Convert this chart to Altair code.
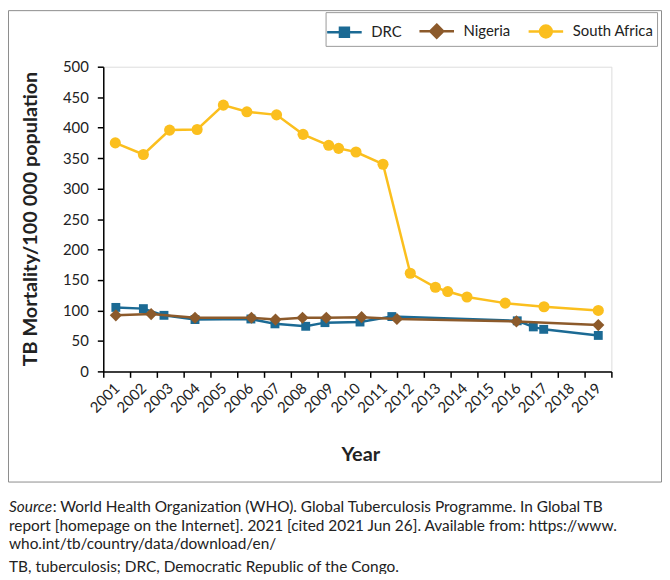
import altair as alt
import pandas as pd

SERIES = ["DRC", "Nigeria", "South Africa"]
COLORS = ["#1b6a94", "#8c5a2b", "#fbbf1e"]

DRC_YEARS = [2000.97, 2002.0, 2002.77, 2003.93, 2006.02, 2006.92, 2008.07, 2008.79, 2010.1, 2011.29, 2015.98, 2016.58, 2016.97, 2019.01]
DRC_VALUES = [105, 103, 92, 85, 86, 78, 74, 80, 81, 90, 83, 73, 69, 59]

NIG_YEARS = [2000.97, 2002.29, 2003.93, 2006.04, 2006.94, 2007.95, 2008.84, 2010.16, 2011.48, 2015.95, 2019.01]
NIG_VALUES = [92, 94, 88, 88, 85, 88, 88, 89, 86, 82, 76]

SA_YEARS = [2000.95, 2002.0, 2002.98, 2004.01, 2004.99, 2005.87, 2006.98, 2007.97, 2008.93, 2009.3, 2009.95, 2010.96, 2011.98, 2012.92, 2013.38, 2014.1, 2015.53, 2016.98, 2019.01]
SA_VALUES = [375, 356, 396, 397, 437, 426, 421, 389, 371, 366, 360, 340, 161, 138, 131, 122, 112, 106, 100]

YEAR_LABELS = list(range(2001, 2020))
Y_TICKS = list(range(0, 501, 50))

X_TITLE = "Year"
Y_TITLE = "TB Mortality/100 000 population"
SOURCE_LABEL = "Source"
FOOTNOTE = [
    ": World Health Organization (WHO). Global Tuberculosis Programme. In Global TB",
    "report [homepage on the Internet]. 2021 [cited 2021 Jun 26]. Available from: https://www.",
    "who.int/tb/country/data/download/en/",
    "TB, tuberculosis; DRC, Democratic Republic of the Congo.",
]

FONT = "Lato"
TEXT_COLOR = "#222222"

rows = []
for name, yrs, vals in zip(SERIES, [DRC_YEARS, NIG_YEARS, SA_YEARS], [DRC_VALUES, NIG_VALUES, SA_VALUES]):
    for yr, v in zip(yrs, vals):
        rows.append({"series": name, "year": yr, "value": v})
df = pd.DataFrame(rows)

W, H = 512, 307
TOTAL_H = 566

tick_vals = [YEAR_LABELS[0] - 0.5 + 0.5 * i for i in range(2 * len(YEAR_LABELS) + 1)]

x_enc = alt.X(
    "year:Q",
    scale=alt.Scale(domain=[YEAR_LABELS[0] - 0.5, YEAR_LABELS[-1] + 0.5], nice=False, zero=False),
    axis=alt.Axis(
        values=tick_vals,
        labelExpr="datum.value % 1 == 0 ? '' + datum.value : ''",
        tickOpacity={"condition": {"test": "datum.value % 1 == 0", "value": 0}, "value": 1},
        labelAngle=-45, labelAlign="right", labelBaseline="middle", labelPadding=8,
        labelFont=FONT, labelFontSize=15, labelColor=TEXT_COLOR, labelOverlap=False,
        tickSize=6, tickColor="#000", tickWidth=1.5, domainColor="#000", domainWidth=1.5,
        grid=False, title=X_TITLE, titleFont=FONT, titleFontSize=20, titleFontWeight="bold",
        titleColor=TEXT_COLOR, titleX=259, titleY=84, titleAlign="center", titleBaseline="middle",
    ),
)
y_enc = alt.Y(
    "value:Q",
    scale=alt.Scale(domain=[0, 500], nice=False),
    axis=alt.Axis(
        values=Y_TICKS, labelFont=FONT, labelFontSize=15, labelColor=TEXT_COLOR,
        labelPadding=9, tickSize=6, tickColor="#000", tickWidth=1.5,
        domainColor="#000", domainWidth=1.5, grid=False,
        title=Y_TITLE, titleFont=FONT, titleFontSize=20, titleFontWeight="bold",
        titleColor=TEXT_COLOR, titleX=-73, titleY=153, titleAlign="center", titleBaseline="middle",
    ),
)

base = alt.Chart(df)
shapes = ["square", "diamond", "circle"]
sizes = [80, 150, 125]
layers = []

frame = alt.Chart(pd.DataFrame({"k": [0]})).mark_rect(
    fillOpacity=0, stroke="#8c8c8c", strokeWidth=1
).encode(x=alt.value(-95.5), x2=alt.value(562.5), y=alt.value(-56.5), y2=alt.value(418.5))
layers.append(frame)

for s, c, sh, sz in zip(SERIES, COLORS, shapes, sizes):
    sub = base.transform_filter(alt.datum.series == s)
    layers.append(sub.mark_line(color=c, strokeWidth=2.5).encode(x=x_enc, y=y_enc))
    layers.append(sub.mark_point(shape=sh, filled=True, color=c, size=sz, opacity=1).encode(x=x_enc, y=y_enc))

LEG_PATHS = [
    "M-1.2,0H1.2M-0.31,-0.31H0.31V0.31H-0.31Z",
    "M-1.2,0H1.2M0,-0.45L0.45,0L0,0.45L-0.45,0Z",
    "M-1.2,0H1.2M0.41,0A0.41,0.41,0,1,1,-0.41,0A0.41,0.41,0,1,1,0.41,0Z",
]
leg = alt.Legend(
    title=None, orient="none", legendX=224, legendY=-55, direction="horizontal",
    symbolSize=841, symbolStrokeWidth=2.5, symbolOpacity=1,
    labelFont=FONT, labelFontSize=15, labelColor=TEXT_COLOR, labelOffset=11,
    columnPadding=12, padding=3, strokeColor="#9a9a9a", fillColor="white",
)
legend_layer = base.mark_point(size=0, filled=True).encode(
    x=x_enc, y=y_enc,
    fill=alt.Fill("series:N", scale=alt.Scale(domain=SERIES, range=COLORS), legend=leg),
    stroke=alt.Stroke("series:N", scale=alt.Scale(domain=SERIES, range=COLORS), legend=leg),
    shape=alt.Shape("series:N", scale=alt.Scale(domain=SERIES, range=LEG_PATHS), legend=leg),
)
layers.append(legend_layer)

note_df = pd.DataFrame({"k": [0]})
foot_y = [444, 463, 481, 504]
FS = 15.5
layers.append(alt.Chart(note_df).mark_text(
    text=SOURCE_LABEL, font=FONT, fontSize=FS, fontStyle="italic", align="left",
    baseline="middle", color=TEXT_COLOR
).encode(x=alt.value(-95), y=alt.value(foot_y[0])))
for i, line in enumerate(FOOTNOTE):
    xoff = -95 + (44 if i == 0 else 0)
    layers.append(alt.Chart(note_df).mark_text(
        text=line, font=FONT, fontSize=FS, align="left", baseline="middle", color=TEXT_COLOR
    ).encode(x=alt.value(xoff), y=alt.value(foot_y[i])))

chart = alt.layer(*layers).properties(
    width=W, height=H,
    autosize=alt.AutoSizeParams(type="none"),
    padding={"left": 96, "top": 57, "right": 659 - 96 - W, "bottom": TOTAL_H - 57 - H},
).configure_view(stroke=None).configure(background="white")

chart.save("out.html", embed_options={"renderer": "svg", "actions": False})
